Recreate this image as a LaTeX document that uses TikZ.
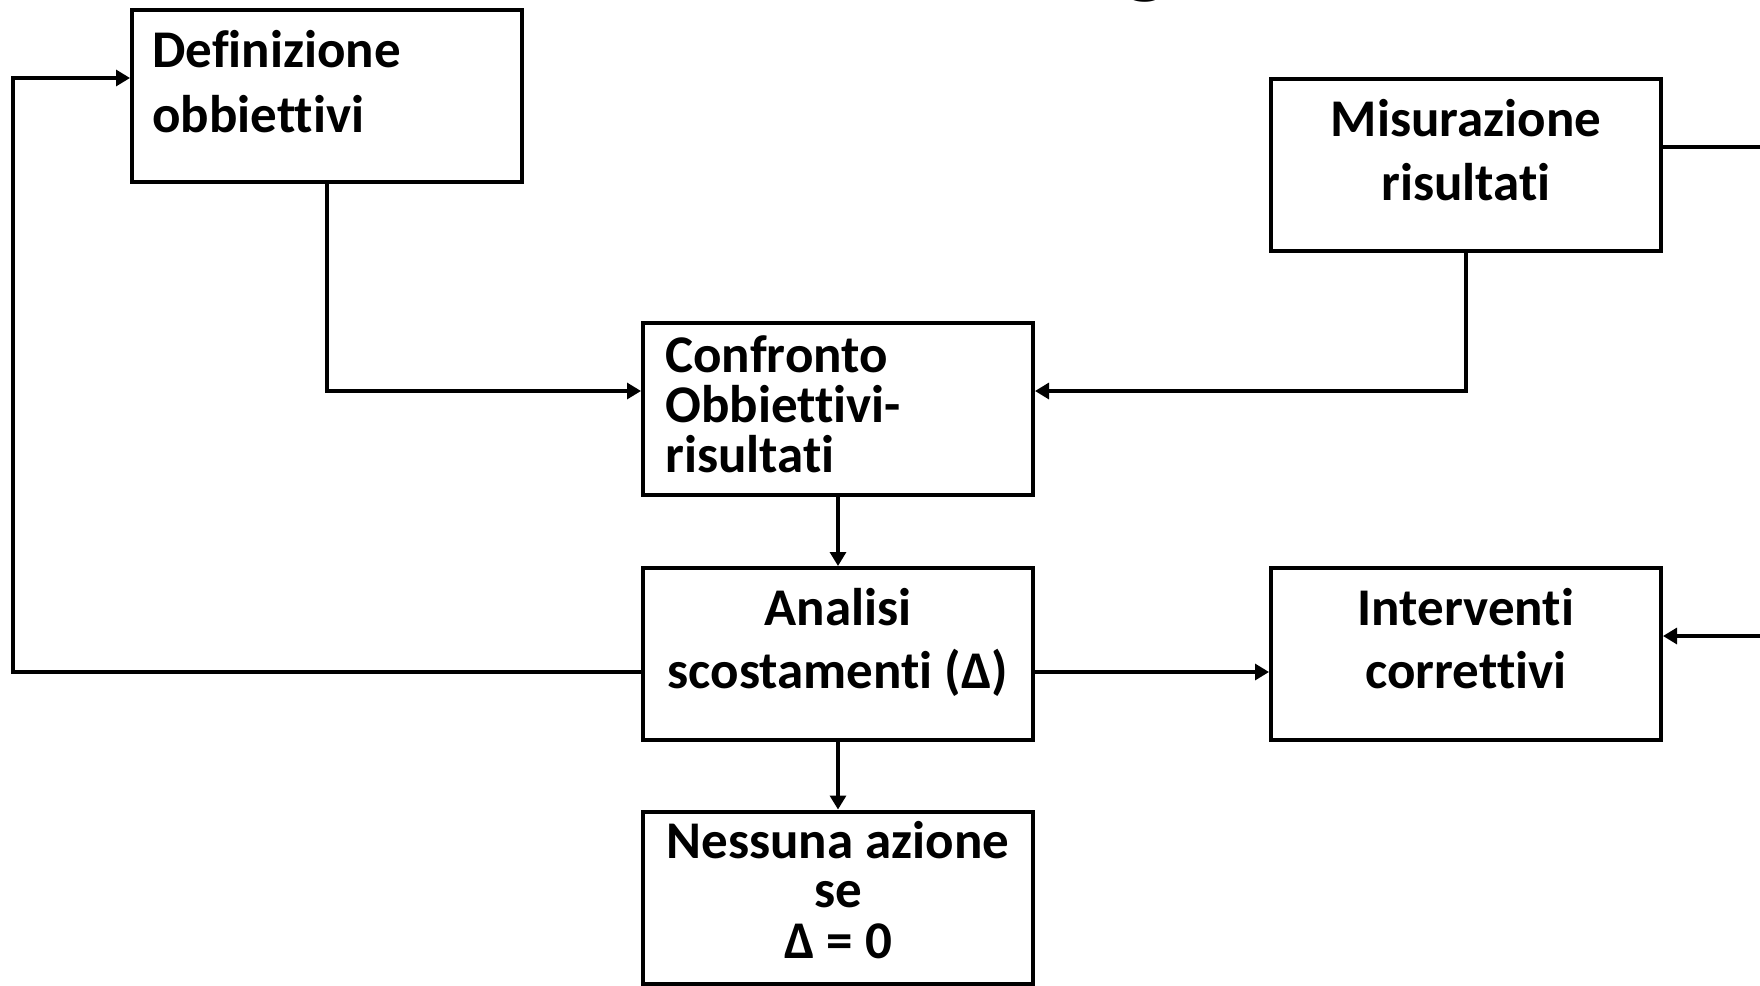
\documentclass[tikz,border=0pt]{standalone}
\usepackage{fontspec}
\setmainfont{Carlito}[Ligatures={NoCommon}]
\usetikzlibrary{arrows.meta}
\begin{document}
\begin{tikzpicture}[x=0.5pt,y=-0.5pt,
  box/.style={draw=black, line width=2pt, fill=none, minimum width=195pt, minimum height=86pt, inner sep=0pt},
  txt/.style={font=\bfseries\fontsize{26.5}{30}\selectfont, inner sep=0pt},
  conn/.style={draw=black, line width=1.6pt},
  arr/.style={conn, -{Triangle[length=7pt,width=8pt]}}]
\useasboundingbox (0,0) rectangle (1760,985);
\fill[white] (0,0) rectangle (1760,985);
% title fragment (cut off by the top edge)
\node[font=\bfseries\fontsize{49.5}{55}\selectfont, inner sep=0pt, anchor=base] (title) at (1146,-14) {g};
% boxes
\node[box] (def)  at (327,95.5) {};
\node[box] (mis)  at (1466,164.5) {};
\node[box] (conf) at (838,409) {};
\node[box] (ana)  at (838,654) {};
\node[box] (int)  at (1466,654) {};
\node[box] (ness) at (838,897.5) {};
% texts
\node[txt, anchor=base west] (defa) at (152,67) {Definizione};
\node[txt, anchor=base west] (defb) at (152,132) {obbiettivi};
\node[txt, anchor=base] (misa) at (1466,136) {Misurazione};
\node[txt, anchor=base] (misb) at (1466,200) {risultati};
\node[txt, anchor=base west] (confa) at (665,372) {Confronto};
\node[txt, anchor=base west] (confb) at (665,422) {Obbiettivi-};
\node[txt, anchor=base west] (confc) at (665,472) {risultati};
\node[txt, anchor=base] (anaa) at (838,625) {Analisi};
\node[txt, anchor=base] (anab) at (838,688) {scostamenti (Δ)};
\node[txt, anchor=base] (inta) at (1466,625) {Interventi};
\node[txt, anchor=base] (intb) at (1466,688) {correttivi};
\node[txt, anchor=base] (nessa) at (838,858) {Nessuna azione};
\node[txt, anchor=base] (nessb) at (838,907) {se};
\node[txt, anchor=base] (nessc) at (838,958) {Δ = 0};
% junction coordinates
\coordinate (L1) at (13,672);
\coordinate (L2) at (13,78);
\coordinate (J1) at (327,391);
\coordinate (J2) at (1466,391);
\coordinate (A1) at (0,672);
\coordinate (R1) at (1760,147);
\coordinate (R2) at (1760,636);
% connectors
\draw[arr] (ana.west |- L1) -- (L1) -- (L2) -- (def.west |- L2);
\draw[arr] (def.south) -- (J1) -- (conf.west |- J1);
\draw[arr] (mis.south) -- (J2) -- (conf.east |- J2);
\draw[arr] (conf.south) -- (ana.north);
\draw[arr] (ana.east |- A1) -- (int.west |- A1);
\draw[arr] (ana.south) -- (ness.north);
\draw[conn] (mis.east |- R1) -- (R1);
\draw[arr] (R2) -- (int.east |- R2);
\end{tikzpicture}
\end{document}
